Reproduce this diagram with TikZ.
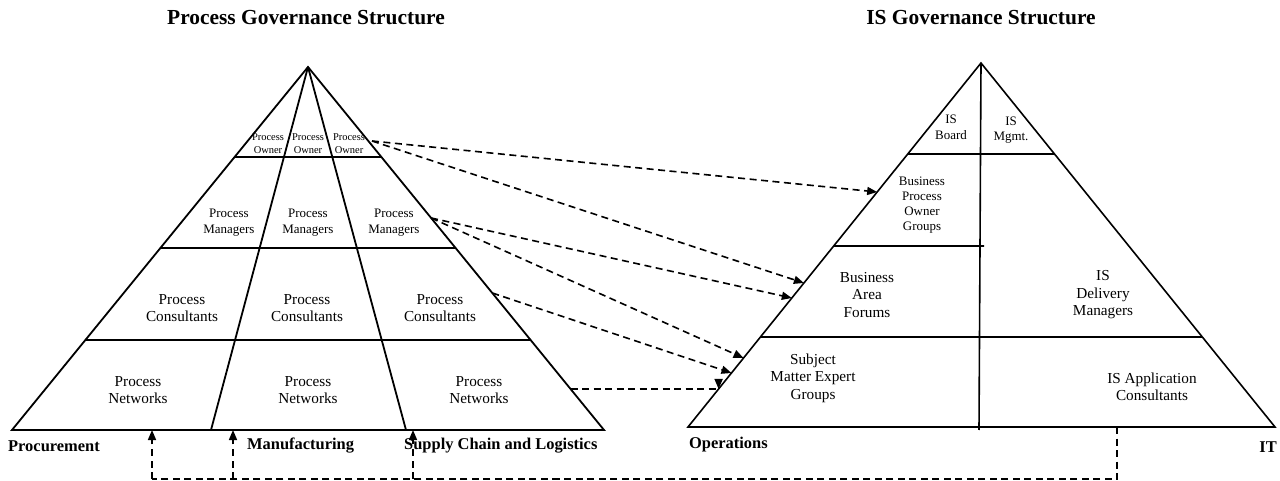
\documentclass[tikz,border=0pt]{standalone}
\usepackage{fontspec}
\setmainfont{Liberation Serif}
\usetikzlibrary{arrows.meta,calc}
\begin{document}
\begin{tikzpicture}[x=1bp,y=-1bp,
  ledge/.style={line width=1.8bp,line join=miter},
  lrow/.style={line width=2.4bp},
  redge/.style={line width=1.6bp,line join=miter},
  link/.style={line width=1.6bp,dash pattern=on 7bp off 4.5bp,-{Triangle[length=10bp,width=8bp]}},
  fbline/.style={line width=1.6bp,dash pattern=on 7bp off 4.5bp},
  cell/.style={inner sep=0pt,align=center,text=black},
  fsA/.style={font=\fontsize{10.5}{13}\selectfont},
  fsB/.style={font=\fontsize{13}{16}\selectfont},
  fsC/.style={font=\fontsize{15.3}{17.5}\selectfont},
  fsD/.style={font=\fontsize{13}{15}\selectfont},
  lab/.style={inner sep=0pt,font=\bfseries\fontsize{16.5}{19}\selectfont},
  ttl/.style={inner sep=0pt,font=\bfseries\fontsize{21.5}{24}\selectfont}]
\useasboundingbox (0,0) rectangle (1280,481);

% ---------- left pyramid ----------
\coordinate (LA) at (308,67);
\coordinate (LBL) at (12,430);
\coordinate (LBR) at (604,430);
\coordinate (LD1) at (211,430);
\coordinate (LD2) at (406,430);
\draw[ledge] (LA) -- (LBL) -- (LBR) -- cycle;
\draw[ledge] (LA) -- (LD1);
\draw[ledge] (LA) -- (LD2);
\foreach \yy in {157,248,340}{
  \draw[lrow] ($(LA)!{(\yy-67)/363}!(LBL)$) -- ($(LA)!{(\yy-67)/363}!(LBR)$);
}

% ---------- right pyramid ----------
\coordinate (RA) at (981,63);
\coordinate (RBL) at (688,427);
\coordinate (RBR) at (1275,427);
\coordinate (RD) at (979,430);
\draw[redge] (RA) -- (RBL) -- (RBR) -- cycle;
\draw[redge] (RA) -- (RD);
\draw[redge] ($(RA)!{(154-63)/364}!(RBL)$) -- ($(RA)!{(154-63)/364}!(RBR)$);
\draw[redge] ($(RA)!{(246-63)/364}!(RBL)$) -- (984,246);
\draw[redge] ($(RA)!{(337-63)/364}!(RBL)$) -- ($(RA)!{(337-63)/364}!(RBR)$);

% ---------- titles ----------
\node[ttl] (t1) at (306,18) {Process Governance Structure};
\node[ttl] (t2) at (981,18) {IS Governance Structure};

% ---------- left texts ----------
\node[cell,fsA] (po1) at (268,144) {Process\\Owner};
\node[cell,fsA] (po2) at (308,144) {Process\\Owner};
\node[cell,fsA] (po3) at (349,144) {Process\\Owner};
\node[cell,fsB] (pm1) at (229,223) {Process\\Managers};
\node[cell,fsB] (pm2) at (308,223) {Process\\Managers};
\node[cell,fsB] (pm3) at (394,223) {Process\\Managers};
\node[cell,fsC] (pc1) at (182,308) {Process\\Consultants};
\node[cell,fsC] (pc2) at (307,308) {Process\\Consultants};
\node[cell,fsC] (pc3) at (440,308) {Process\\Consultants};
\node[cell,fsC] (pn1) at (138,390) {Process\\Networks};
\node[cell,fsC] (pn2) at (308,390) {Process\\Networks};
\node[cell,fsC] (pn3) at (479,390) {Process\\Networks};

\node[lab,anchor=west] (proc) at (8,446) {Procurement};
\node[lab,anchor=west] (manu) at (247,446) {Manufacturing};
\node[lab,anchor=west] (scl) at (404,446) {Supply Chain and Logistics};

% ---------- right texts ----------
\node[cell,fsB] (isb) at (951,127) {IS\\Board};
\node[cell,fsD] (ism) at (1011,130) {IS\\Mgmt.};
\node[cell,fsD] (bpog) at (922,205) {Business\\Process\\Owner\\Groups};
\node[cell,fsC] (baf) at (867,295) {Business\\Area\\Forums};
\node[cell,fsC] (isdm) at (1103,295) {IS\\Delivery\\Managers};
\node[cell,fsC] (sme) at (813,378) {Subject\\Matter Expert\\Groups};
\node[cell,fsC] (isac) at (1152,387) {IS Application\\Consultants};

\node[lab,anchor=west] (ops) at (689,445) {Operations};
\node[lab,anchor=east] (it) at (1277,447) {IT};

% ---------- dashed links ----------
\coordinate (sO) at (372,141);
\coordinate (sM) at ($(LA)!{(218-67)/363}!(LBR)$);
\coordinate (sC) at ($(LA)!{(293-67)/363}!(LBR)$);
\coordinate (sN) at ($(LA)!{(389-67)/363}!(LBR)$);
\coordinate (e1) at ($(RA)!{(192-63)/364}!(RBL)$);
\coordinate (e2) at ($(RA)!{(283-63)/364}!(RBL)$);
\coordinate (e3) at ($(RA)!{(298-63)/364}!(RBL)$);
\coordinate (e4) at ($(RA)!{(358-63)/364}!(RBL)$);
\coordinate (e5) at ($(RA)!{(373-63)/364}!(RBL)$);
\coordinate (e6) at ($(RA)!{(389-63)/364}!(RBL)$);
\draw[link] (sO) -- (e1);
\draw[link] (sO) -- (e2);
\draw[link] (sM) -- (e3);
\draw[link] (sM) -- (e4);
\draw[link] (sC) -- (e5);
\draw[link] (sN) -- (sN -| e6) -- (e6);

% ---------- feedback ----------
\coordinate (fR) at (1117,427);
\coordinate (fRb) at (1117,479);
\coordinate (b1) at (152,479);
\coordinate (b2) at (233,479);
\coordinate (b3) at (413,479);
\coordinate (a1) at (152,430);
\coordinate (a2) at (233,430);
\coordinate (a3) at (413,430);
\draw[fbline] (fR) -- (fRb) -- (b1);
\draw[link] (b1) -- (a1);
\draw[link] (b2) -- (a2);
\draw[link] (b3) -- (a3);
\end{tikzpicture}
\end{document}
